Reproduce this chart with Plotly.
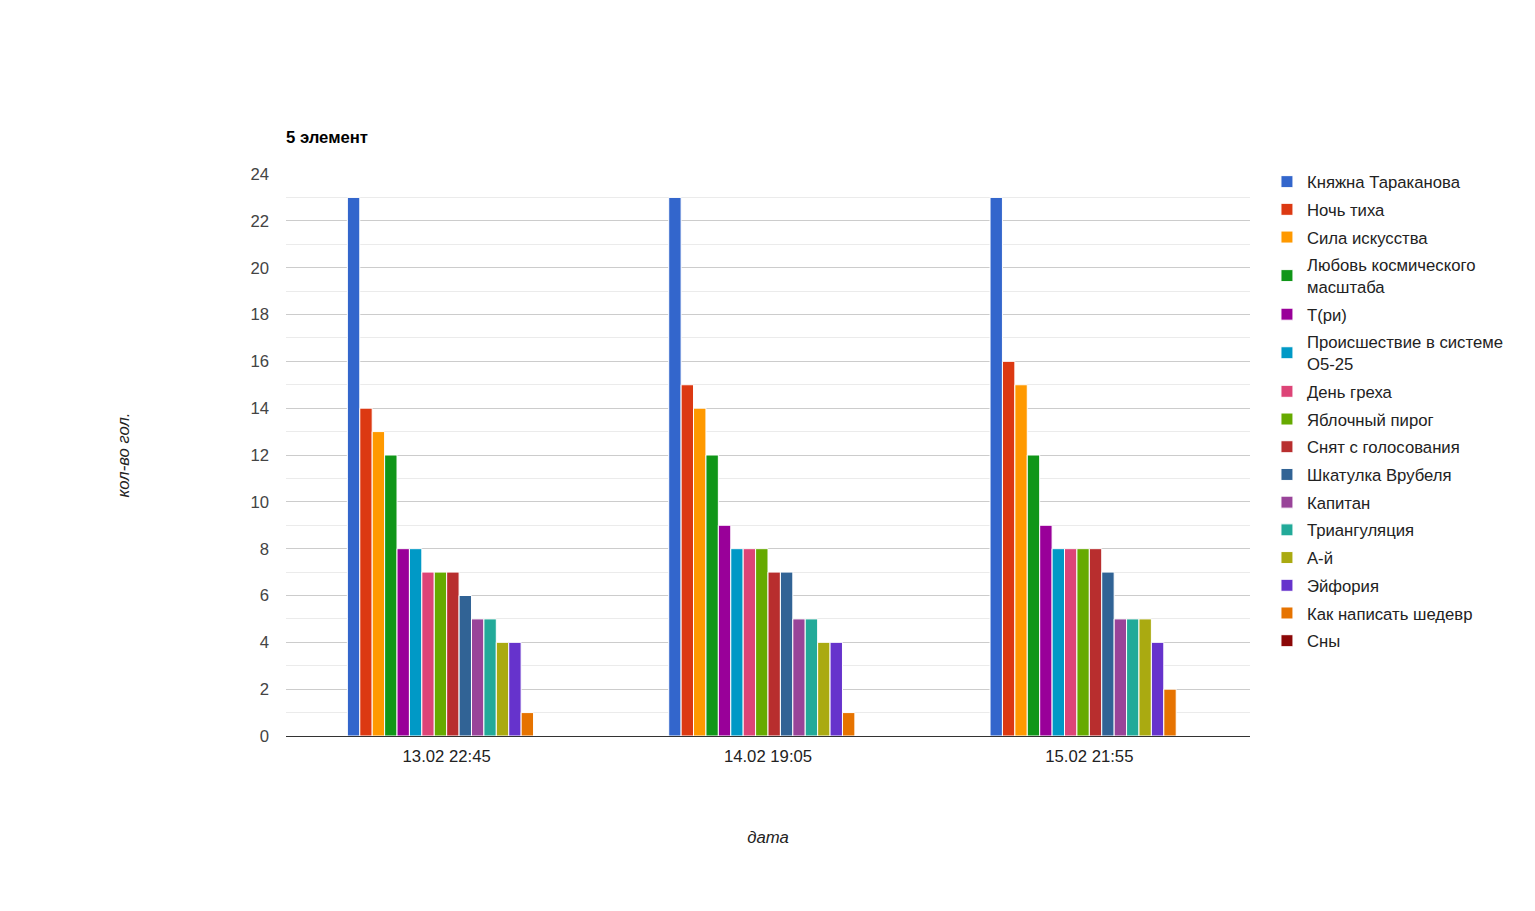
import plotly.graph_objects as go

categories = ["13.02 22:45", "14.02 19:05", "15.02 21:55"]
series_names = [
    "Княжна Тараканова", "Ночь тиха", "Сила искусства",
    "Любовь космического<br>масштаба", "Т(ри)",
    "Происшествие в системе<br>О5-25", "День греха", "Яблочный пирог",
    "Снят с голосования", "Шкатулка Врубеля", "Капитан", "Триангуляция",
    "А-й", "Эйфория", "Как написать шедевр", "Сны",
]
values = [
    [23, 23, 23],
    [14, 15, 16],
    [13, 14, 15],
    [12, 12, 12],
    [8, 9, 9],
    [8, 8, 8],
    [7, 8, 8],
    [7, 8, 8],
    [7, 7, 8],
    [6, 7, 7],
    [5, 5, 5],
    [5, 5, 5],
    [4, 4, 5],
    [4, 4, 4],
    [1, 1, 2],
    [0, 0, 0],
]
colors = ["#3366cc", "#dc3912", "#ff9900", "#109618", "#990099", "#0099c6",
          "#dd4477", "#66aa00", "#b82e2e", "#316395", "#994499", "#22aa99",
          "#aaaa11", "#6633cc", "#e67300", "#8b0707"]
y_ticks = list(range(0, 25, 2))

fig = go.Figure()
for i, (name, vals, col) in enumerate(zip(series_names, values, colors)):
    fig.add_trace(go.Bar(
        name=name, x=categories, y=vals, legendgroup=f"g{i}",
        marker=dict(color=col, line=dict(color="white", width=1)),
    ))

font_family = "Liberation Sans, Arial, sans-serif"
FS = 16.7
fig.update_layout(
    width=1535, height=911,
    barmode="group", bargap=0.382, bargroupgap=0,
    plot_bgcolor="white", paper_bgcolor="white",
    margin=dict(l=278, r=293, t=166, b=183, autoexpand=False),
    font=dict(family=font_family, size=FS, color="#222"),
    title=dict(text="<b>5 элемент</b>", x=278/1535, xanchor="left",
               y=1 - 129/911, yanchor="middle",
               font=dict(size=FS, color="#000", family=font_family)),
    legend=dict(x=1.0176, y=1.0173, xanchor="left", yanchor="top",
                font=dict(size=FS, color="#222"), tracegroupgap=3,
                bgcolor="rgba(0,0,0,0)", maxheight=1.0),
    showlegend=True,
)
fig.update_yaxes(
    range=[0, 24], tickvals=y_ticks, showgrid=True, gridcolor="#cccccc",
    gridwidth=1, zeroline=False, showline=False,
    tickfont=dict(size=FS, color="#444"), ticklabelstandoff=16,
    minor=dict(dtick=1, showgrid=True, gridcolor="#ebebeb", gridwidth=1),
    title=dict(text="<i>кол-во гол.</i>", standoff=116,
               font=dict(size=FS, color="#222")),
)
fig.update_xaxes(
    showline=True, linecolor="#333333", linewidth=1, showgrid=False,
    tickfont=dict(size=FS, color="#222"), ticklabelstandoff=5,
    title=dict(text="<i>дата</i>", standoff=66, font=dict(size=FS, color="#222")),
)
fig.write_html("out.html")
